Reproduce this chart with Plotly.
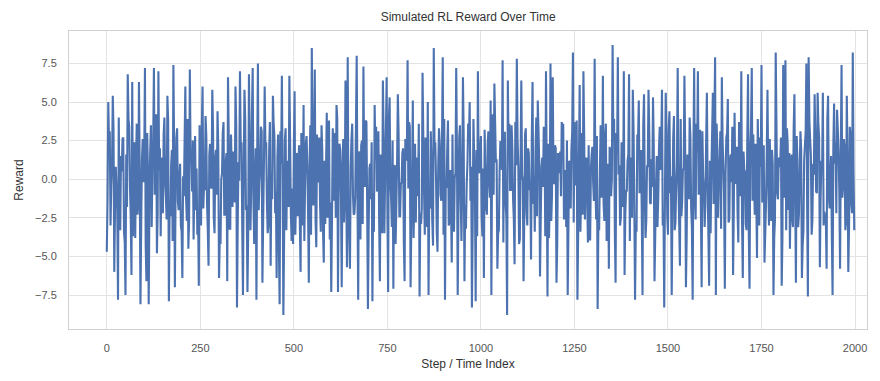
import plotly.graph_objects as go

# Background reward values.
# base_even holds steps 0, 4, 8, ...; base_odd holds steps 2, 6, 10, ...
base_even = [
    1.2, -2.8, 3.1, -0.4, -3.6, 2.2, 0.8, -1.9, 4.0, -3.3,
    0.5, 2.7, -4.1, 1.6, -0.9, 3.4, -2.5, -1.2, 2.0, -3.8,
    3.6, -1.5, 0.3, -2.9, 2.6, 1.1, -4.3, 3.0, -0.7, 1.8,
    -3.1, 2.4, -1.0, 4.2, -2.2, 0.6, -3.7, 1.4, 2.9, -0.2,
    -2.6, 3.8, -1.7, 0.9, -4.0, 2.1, -0.5, 3.3, -2.0, 1.0,
    -3.4, 0.2, 2.5, -1.3, 3.9, -2.7, 1.5, -0.8, -3.9, 2.8,
    0.7, -2.1, 3.5, -3.0, 1.3, -0.3, 4.1, -1.6, -2.4, 2.3,
    -0.6, 3.2, -3.5, 1.9, -1.1, 2.6, -4.2, 0.4, 3.7, -2.3,
    1.7, -0.1, -3.2, 2.9, -1.8, 0.8, 3.0, -2.9, 1.1, -3.6,
    2.4, -0.9, 3.6, -2.0, -0.4, 1.6, -3.3, 4.3, -1.4, 0.1,
    -2.7, 1.9, -0.2, 3.4, -3.9, 0.9, 2.2, -1.5, -3.0, 3.7,
    0.4, -2.4, 2.8, -0.8, 1.4, -4.4, 3.1, 0.0, -1.9, 2.5,
    -3.3, 1.2, 3.9, -2.2, -0.6, 2.0, -3.6, 1.7, 0.6, -2.8,
    3.0, -1.1, -4.0, 2.3, 0.9, -2.6, 3.5, -0.3, -1.7, 4.4,
    -2.1, 0.3, 2.7, -3.4, 1.8, -0.7, -2.9, 3.2, 0.8, -3.9,
    1.5, 3.3, -1.4, -2.5, 4.0, -0.1, 1.9, -3.7, 2.6, -1.0,
    -0.5, 2.1, -3.8, 0.7, 3.6, -2.3, -1.2, 2.9, -4.1, 1.3,
    2.2, -2.9, 0.5, 3.8, -1.6, -3.2, 1.0, 2.4, -0.9, -2.0,
    3.4, -0.4, -2.7, 1.6, -3.5, 2.8, 0.2, -1.8, 3.9, -3.0,
    -1.3, 2.5, 0.8, -4.2, 1.1, 3.0, -2.4, -0.2, 2.0, -3.4,
    1.8, -1.7, 3.7, -2.6, 0.3, -3.8, 2.3, 1.4, -1.1, 3.2,
    -2.9, 0.6, -0.8, 2.7, -3.1, 4.1, -1.9, 0.9, -4.3, 2.1,
    0.1, -2.2, 3.3, -1.0, 2.5, -3.6, 1.6, -0.5, 3.8, -2.7,
    -1.5, 2.9, -3.4, 0.4, 1.7, -2.0, 3.5, -4.0, 0.7, 2.2,
    -3.2, 1.0, 2.6, -1.4, -2.8, 3.9, -0.6, 1.9, -3.5, 0.5,
    2.8, -3.7, 1.3, 0.2, -2.3, 3.1, -1.2, -3.0, 4.2, -0.9,
    1.1, -1.8, -3.3, 2.4, 0.6, -4.1, 3.0, -2.5, 1.5, 3.6,
    -0.7, 2.0, -2.6, 3.7, -1.3, 0.8, -3.9, 2.7, -0.1, -2.2,
    3.3, -3.0, 1.7, -0.4, 2.6, -1.6, -3.4, 4.0, -2.1, 0.9,
    -2.4, 1.4, 3.4, -3.7, 0.0, 2.3, -1.5, -2.7, 3.1, -0.3,
    2.0, -4.2, 0.7, 1.8, -2.0, 3.6, -0.8, -3.1, 2.5, 1.2,
    -1.9, 3.0, -2.8, 0.5, 3.8, -3.5, 1.1, -0.6, -2.3, 2.9,
    0.8, -1.2, 2.2, -3.9, 1.6, -0.2, 3.4, -2.6, 0.4, -3.3,
    3.5, -0.5, -1.6, 2.8, -4.0, 1.0, 2.1, -1.1, -2.9, 3.9,
    -2.2, 1.7, 0.3, -3.0, 2.4, -1.8, 4.3, -0.7, 1.2, -3.6,
    1.4, -2.5, 3.2, 0.1, -3.4, 2.6, -0.9, 1.9, -2.4, 3.0,
    -3.8, 0.9, 2.3, -1.5, 1.3, -2.7, 3.7, -0.4, -3.1, 2.0,
    0.6, 3.5, -2.1, -0.8, 2.9, -3.6, 1.5, 0.2, -1.7, 4.1,
    -2.8, 1.1, -0.3, 3.3, -2.4, 0.7, -4.0, 2.2, 1.6, -1.3,
    2.7, -3.2, 1.8, -1.0, 3.6, -2.9, 0.4, -1.9, 3.1, -0.6,
    -1.6, 2.4, -3.5, 1.2, 0.5, -2.2, 3.8, -3.3, 1.9, -0.1,
    3.1, -1.4, 0.9, -3.7, 2.7, -0.5, -2.6, 1.6, 3.4, -2.0,
    -0.3, 2.1, -4.1, 1.3, -1.8, 3.2, 0.6, -2.9, 2.5, -3.4,
    1.9, -0.7, 2.9, -2.3, -1.1, 3.9, -3.0, 0.8, -1.5, 2.2,
    -3.5, 1.5, 0.2, 2.6, -2.7, 1.0, -3.8, 3.5, -0.9, 1.4,
    0.9, -2.0, 3.6, -1.2, -3.3, 2.3, 1.7, -0.6, -2.5, 3.3,
    -1.1, 2.8, -3.1, 0.3, 2.0, -4.3, 1.2, 3.0, -1.7, -0.2,
    2.6, -3.6, 1.0, 3.4, -0.8, -2.1, 2.7, -1.3, 0.6, -3.0,
    -2.5, 0.7, 3.8, -1.9, 1.5, -3.2, 0.1, 2.4, -3.7, 1.8,
    3.2, -1.6, -0.4, 2.1, -2.8, 1.3, -3.1, 2.9, -2.2, 0.5,
]
base_odd = [
    -1.4, 2.3, -3.0, 0.9, 3.2, -2.1, -0.6, 3.7, -2.9, 1.5,
    2.6, -3.4, 0.2, -1.8, 3.9, -0.5, 1.1, -3.7, 2.4, 0.7,
    -2.3, 3.0, -4.0, 1.3, -0.2, 2.9, -3.1, 0.6, -1.6, 3.5,
    1.0, -2.6, 3.3, -0.9, -3.5, 2.0, 0.4, -2.2, 4.0, -1.2,
    3.1, -0.8, -2.4, 1.9, -3.8, 0.5, 2.7, -1.4, 0.1, -3.0,
    2.2, -1.1, 3.6, -2.7, 0.8, -4.1, 1.7, 2.5, -0.3, -2.0,
    -3.6, 1.2, 0.3, 3.4, -1.9, -0.7, 2.8, -3.3, 1.6, -0.4,
    3.8, -2.5, 1.4, -1.0, 2.1, -3.9, 0.0, 3.0, -2.3, 1.1,
    -0.9, 2.7, -3.2, 0.7, 1.8, -1.5, 3.5, -2.8, -0.1, 2.3,
    -2.9, 0.4, 3.9, -1.7, -3.4, 2.6, -0.6, 1.3, -4.2, 2.0,
    1.6, -2.0, 0.8, 3.1, -2.6, -0.3, 2.4, -3.5, 1.9, 0.6,
    -1.3, 3.6, -2.2, -0.8, 2.9, -3.1, 1.0, 0.2, -3.8, 3.3,
    0.5, -1.8, 2.5, -4.0, 1.4, 3.7, -0.7, -2.4, 2.2, -1.1,
    -3.0, 1.9, -0.4, 2.8, -2.1, 0.9, -3.6, 3.2, 0.3, -2.7,
    2.9, -0.2, -1.6, 3.5, -3.3, 1.2, 0.6, -2.5, 3.8, -1.5,
    -2.4, 1.6, 3.0, -0.6, -3.7, 2.3, -1.2, 0.8, -2.8, 4.1,
    0.2, -3.2, 1.5, 2.6, -1.0, -2.2, 3.4, -0.9, 1.8, -3.9,
    2.5, -1.7, -0.5, 3.7, -2.9, 0.7, -1.3, 2.0, -3.4, 1.3,
    -0.8, 3.1, -2.6, 1.0, 0.4, -3.5, 2.8, -1.9, 3.9, -0.1,
    -3.1, 2.2, 0.9, -1.6, 3.3, -2.4, -0.3, 1.7, -4.1, 2.6,
    1.2, -0.6, 3.4, -3.0, 2.0, -1.2, -2.8, 0.5, 3.6, -2.2,
    -1.9, 2.8, -3.6, 0.3, 1.6, -0.9, 3.1, -2.7, 0.9, 2.4,
    -3.4, 1.0, 2.3, -1.4, -2.3, 3.9, -0.5, 1.9, -3.0, 0.6,
    3.3, -2.8, 0.1, 1.5, -3.9, 2.7, -1.1, -0.4, 2.6, -1.7,
    -0.3, 3.6, -2.0, 0.8, -3.2, 1.4, 2.9, -3.7, 0.4, 1.8,
    -2.5, 0.7, 3.2, -1.8, 2.3, -0.2, -3.3, 2.1, -1.0, 3.7,
    1.3, -3.5, 0.6, 2.4, -2.0, 3.0, -1.5, -2.9, 1.7, -0.7,
    3.5, -1.3, -2.5, 0.9, 2.6, -4.2, 1.1, 0.3, -1.8, 2.9,
    -2.1, 2.0, -0.7, 3.8, -3.1, 0.2, 1.9, -2.4, 3.1, -3.6,
    0.8, -0.5, 2.7, -2.2, 1.5, -3.8, 3.3, -1.0, -0.2, 2.2,
    -3.7, 1.7, 0.4, -1.1, 3.4, -2.6, 0.6, 2.5, -3.0, 1.0,
    2.0, -2.3, 3.7, -0.4, -1.7, 1.3, -3.4, 3.0, -0.8, -2.6,
    1.4, 3.2, -3.9, 0.7, 2.1, -1.4, -0.1, 2.8, -2.9, 0.5,
    -1.2, 2.4, -2.7, 3.6, -0.6, -3.2, 1.8, 0.0, 2.5, -3.5,
    3.0, -1.9, 0.9, -2.5, 1.1, 3.8, -2.2, -0.8, 1.6, -4.0,
    0.3, 2.6, -1.5, -3.1, 2.9, -0.4, 1.2, -2.3, 3.5, -1.0,
    -2.7, 0.8, 3.1, -1.6, -0.5, 2.2, -3.6, 1.5, -1.2, 3.4,
    2.1, -3.0, 0.5, 1.9, -2.4, 3.3, -0.9, -1.7, 2.7, -3.3,
    -0.4, 1.4, -2.9, 3.9, -1.4, 0.6, 2.0, -3.8, 0.9, 2.8,
    -1.8, 3.5, -0.6, -2.6, 1.7, -1.0, 3.2, -2.1, 0.2, -3.1,
    2.4, -0.3, 1.6, -3.5, 2.9, -1.6, -0.7, 3.6, -2.5, 1.2,
    -3.2, 2.5, -1.2, 0.4, 3.0, -2.8, 1.3, -0.2, -3.6, 2.1,
    0.9, -2.1, 3.7, -1.1, -2.7, 1.8, 0.5, -3.3, 2.6, -0.6,
    3.4, -1.4, -0.1, 2.3, -3.9, 1.1, 2.7, -1.9, 0.3, -2.4,
    -1.6, 3.0, -3.0, 0.6, 1.9, -0.8, -2.6, 3.5, -1.3, 0.8,
    2.7, -3.7, 1.0, -0.5, 3.3, -2.0, 0.7, 1.6, -3.1, 2.4,
    -0.7, 1.3, -2.3, 3.1, -1.5, -3.4, 2.2, 0.1, -1.9, 3.8,
    1.5, -2.7, 0.3, 2.5, -0.9, 3.6, -3.2, 1.2, -0.4, -2.1,
    -2.6, 3.9, -1.1, 0.2, -3.5, 2.1, 1.0, -2.2, 3.2, -0.8,
    1.9, -1.2, 2.6, -3.3, 0.6, -2.5, 3.4, -1.6, 1.1, -2.9,
]
STEP = 2

# Visible upward spikes (step, reward)
peak_steps = [5, 16, 57, 69, 86, 102, 126, 139, 163, 179, 211, 222, 257, 283, 297, 324, 345, 356, 369, 380,
              391, 404, 422, 444, 468, 489, 503, 527, 548, 556, 588, 615, 639, 644, 668, 687, 716, 738, 748, 757,
              778, 805, 818, 845, 858, 875, 899, 935, 952, 970, 992, 1027, 1037, 1059, 1072, 1096, 1109, 1139, 1152, 1174,
              1187, 1193, 1217, 1246, 1265, 1275, 1305, 1326, 1353, 1366, 1382, 1396, 1406, 1423, 1436, 1449, 1460, 1484, 1495, 1505,
              1527, 1545, 1559, 1570, 1580, 1604, 1620, 1626, 1644, 1660, 1679, 1697, 1714, 1725, 1751, 1767, 1789, 1808, 1815, 1839,
              1871, 1877, 1893, 1901, 1914, 1928, 1944, 1952, 1965, 1979, 1995]
peak_values = [5.0, 5.4, 6.8, 6.3, 6.3, 7.2, 7.2, 7.0, 5.4, 7.4, 6.0, 7.1, 6.0, 5.8, 4.4, 6.6, 6.0, 7.0, 5.8, 6.8,
               7.2, 7.5, 6.0, 5.4, 6.7, 6.7, 5.7, 4.8, 8.5, 7.1, 4.3, 4.8, 6.4, 7.9, 8.0, 7.3, 4.8, 6.4, 6.6, 5.3,
               5.5, 7.7, 5.1, 6.9, 5.0, 8.5, 7.9, 7.2, 6.6, 5.0, 7.0, 5.1, 6.2, 7.7, 6.4, 7.8, 6.4, 6.3, 5.1, 7.0,
               7.5, 6.6, 3.7, 8.2, 6.1, 7.0, 7.8, 6.7, 8.7, 7.9, 7.0, 6.8, 5.8, 5.1, 5.5, 5.8, 5.3, 5.8, 5.6, 4.4,
               7.2, 6.7, 4.0, 7.2, 7.0, 5.6, 5.6, 7.9, 6.6, 5.2, 4.3, 7.0, 6.8, 7.2, 7.4, 5.8, 8.2, 7.4, 7.7, 5.5,
               7.5, 7.9, 5.5, 5.6, 5.6, 5.4, 4.9, 4.5, 7.4, 5.4, 8.2]

# Visible downward spikes (step, reward)
trough_steps = [0, 20, 30, 51, 67, 90, 106, 112, 134, 167, 183, 203, 218, 246, 273, 301, 323, 349, 364, 377,
                401, 417, 438, 454, 463, 473, 498, 519, 540, 561, 580, 601, 619, 628, 642, 650, 672, 698, 711, 730,
                752, 767, 797, 813, 837, 861, 885, 904, 922, 938, 957, 976, 987, 1008, 1029, 1045, 1070, 1091, 1115, 1134,
                1158, 1178, 1203, 1233, 1259, 1286, 1313, 1342, 1360, 1385, 1412, 1433, 1465, 1490, 1511, 1532, 1548, 1567, 1591, 1611,
                1628, 1652, 1674, 1701, 1719, 1738, 1759, 1783, 1805, 1826, 1842, 1858, 1874, 1906, 1925, 1941, 1960, 1983, 1999]
trough_values = [-4.7, -6.0, -7.8, -7.5, -6.2, -8.1, -6.6, -8.1, -4.8, -7.9, -7.0, -6.4, -4.5, -6.9, -5.6, -6.4, -6.6, -8.3, -7.5, -7.3,
                 -7.8, -6.7, -5.6, -6.4, -8.1, -8.8, -4.2, -6.0, -6.7, -4.4, -5.4, -7.3, -7.3, -7.0, -5.7, -5.8, -7.8, -8.4, -7.9, -6.6,
                 -7.3, -7.1, -6.6, -7.0, -7.6, -7.5, -4.7, -7.8, -5.4, -7.5, -6.6, -8.3, -7.9, -6.4, -7.5, -5.8, -8.8, -5.5, -6.6, -5.2,
                 -6.3, -7.6, -6.7, -7.5, -7.8, -4.1, -8.4, -5.8, -6.7, -6.2, -7.8, -7.5, -6.6, -8.3, -7.5, -5.6, -7.0, -7.8, -7.0, -6.9,
                 -7.5, -7.1, -6.2, -6.4, -7.1, -5.1, -5.4, -7.5, -6.9, -4.5, -6.7, -6.4, -7.6, -5.7, -5.8, -7.5, -5.8, -6.0, -3.3]

x_ticks = [0, 250, 500, 750, 1000, 1250, 1500, 1750, 2000]
y_ticks = [-7.5, -5.0, -2.5, 0.0, 2.5, 5.0, 7.5]

reward = []
for a, b in zip(base_even, base_odd):
    reward.extend([a, b])
for s, v in zip(peak_steps, peak_values):
    reward[s // STEP] = v
for s, v in zip(trough_steps, trough_values):
    reward[s // STEP] = v
steps = [i * STEP for i in range(len(reward))]

FONT = "Liberation Sans, Arial, sans-serif"
GRID = "#e3e3e3"

fig = go.Figure(go.Scatter(
    x=steps, y=reward, mode="lines",
    line=dict(color="#4c72b0", width=2.1, simplify=False),
    showlegend=False,
))

fig.update_layout(
    width=880, height=381,
    margin=dict(l=69, r=13, t=31, b=49),
    paper_bgcolor="white", plot_bgcolor="white",
    font=dict(family=FONT, size=11, color="#555555"),
    title=dict(text="Simulated RL Reward Over Time", x=0.532, xanchor="center",
               y=0.955, yanchor="middle", font=dict(size=12, color="#333333")),
)
fig.update_xaxes(
    range=[-101, 2032], tickvals=x_ticks, ticktext=[str(t) for t in x_ticks],
    showgrid=True, gridcolor=GRID, gridwidth=1, zeroline=False,
    showline=True, linecolor="#d0d0d0", linewidth=1, mirror=True,
    ticks="outside", ticklen=9, tickcolor="rgba(0,0,0,0)",
    title=dict(text="Step / Time Index", font=dict(size=12, color="#333333"), standoff=6),
)
fig.update_yaxes(
    range=[-9.7, 9.6], tickvals=y_ticks, ticktext=[f"{t:.1f}".replace("-", "\u2212") for t in y_ticks],
    showgrid=True, gridcolor=GRID, gridwidth=1, zeroline=False,
    showline=True, linecolor="#d0d0d0", linewidth=1, mirror=True,
    ticks="outside", ticklen=9, tickcolor="rgba(0,0,0,0)",
    title=dict(text="Reward", font=dict(size=12, color="#333333"), standoff=8),
)

fig.write_html("out.html")
